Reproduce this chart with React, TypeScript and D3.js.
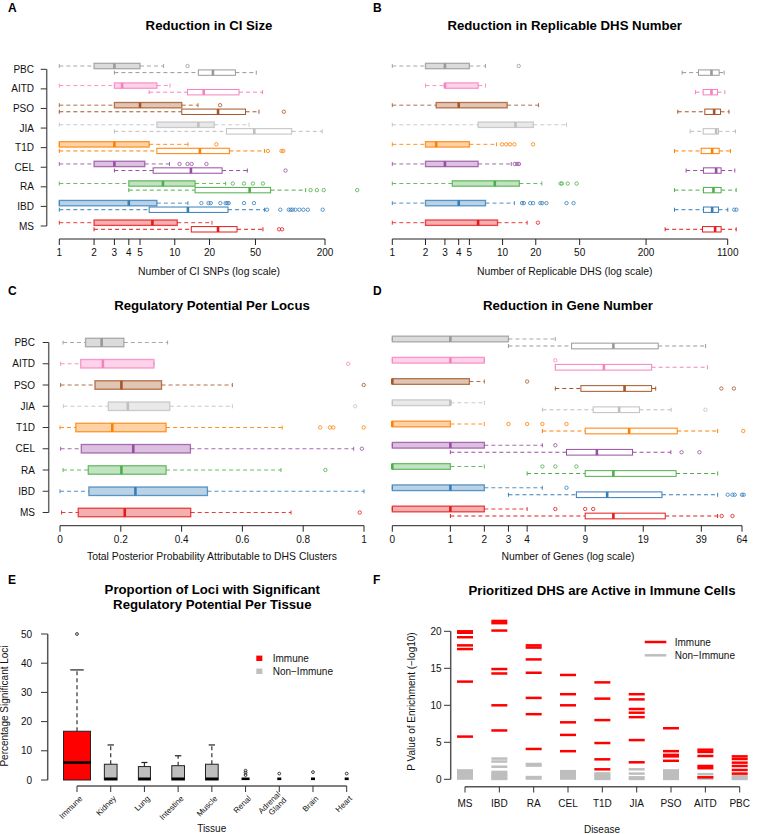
import React from "react";
import * as d3 from "d3";

const FONT = "'Liberation Sans', Arial, Helvetica, sans-serif";

// ---------- shared categories ----------
const diseases = ["MS", "IBD", "RA", "CEL", "T1D", "JIA", "PSO", "AITD", "PBC"];
const diseaseColors = ["#E41A1C", "#377EB8", "#4DAF4A", "#984EA3", "#FF7F00", "#BFBFBF", "#A65628", "#F781BF", "#999999"];

// ---------- Panel A: CI size (number of SNPs) [lo, q1, med, q3, hi] ----------
const ciRefinedStats = [
  [1, 2, 6.4, 10.5, 21], [1, 1, 4, 7, 13], [1, 4, 7.9, 15, 27.6], [1, 2, 3, 5.5, 9], [1, 1, 3, 6, 13],
  [1, 7, 16, 22, 44], [1, 3, 5, 11.5, 15.9], [1, 3, 3.5, 7, 9.1], [1, 2, 3, 5, 8],
];
const ciRefinedOut = [
  [], [17, 19.6, 20.5, 24.8, 27.6, 28.5, 29.3, 39.8, 48.5], [31.8, 39.8, 47.5, 58], [11, 12.9, 14, 18.8], [22.9],
  [], [24.7], [], [12.9],
];
const ciOriginalStats = [
  [2, 13.9, 23.7, 34.6, 58], [1, 6, 13, 28.9, 60], [4, 15, 44.5, 67.6, 136], [3, 6.5, 13.8, 25.7, 42.5], [1, 7, 16.5, 29.7, 60],
  [3, 28, 48.8, 103, 189], [1, 11.5, 23.7, 41, 53.6], [6, 12.9, 17.8, 36, 57.6], [3, 16, 21.4, 33.5, 50.8],
];
const ciOriginalOut = [
  [80, 85], [63, 82, 97, 101, 105, 111, 120, 130, 142, 191], [150, 170, 195, 380], [91], [64, 84, 87],
  [], [88], [], [],
];
const ciTicks = [1, 2, 3, 4, 5, 10, 20, 50, 200];

// ---------- Panel B: replicable DHS ----------
const dhsRefinedStats = [
  [1, 2, 6, 9, 16.7], [1, 2, 4, 7, 12.8], [1, 3.5, 8.5, 14.2, 22.7], [1, 2, 3, 6, 12], [1, 2, 2.5, 5, 8.8],
  [1, 6, 13.1, 19, 38], [1, 2.5, 4, 11, 21.2], [2, 3, 3, 6, 7], [1, 2, 3, 5, 7],
];
const dhsRefinedOut = [
  [20.9], [15, 15.6, 17.8, 18.9, 22, 22.9, 25, 38, 44], [33.6, 34.5, 39, 47], [12.9, 13.6, 14.1], [9.9, 10.8, 11.7, 12.8, 18.9],
  [], [], [], [14],
];
const dhsOriginalStats = [
  [298, 650, 846, 959, 1313], [362, 663, 795, 907, 1102], [362, 663, 817, 959, 1313], [462, 663, 864, 959, 1276], [362, 632, 795, 920, 1164],
  [502, 659, 864, 907, 1294], [388, 682, 829, 946, 1130], [561, 659, 784, 889, 1035], [425, 597, 784, 920, 1021],
];
const dhsOriginalOut = [[], [1260, 1320], [], [], [], [], [], [], []];
const dhsTicks = [1, 2, 3, 4, 5, 10, 20, 50, 200, 1100];

// ---------- Panel C: regulatory potential ----------
const regStats = [
  [0.005, 0.06, 0.213, 0.43, 0.76], [0, 0.095, 0.248, 0.485, 1.0], [0.01, 0.093, 0.202, 0.349, 0.727],
  [0.002, 0.07, 0.241, 0.429, 0.966], [0, 0.052, 0.172, 0.349, 0.731], [0.011, 0.159, 0.223, 0.361, 0.567],
  [0.002, 0.115, 0.202, 0.334, 0.567], [0.002, 0.068, 0.141, 0.309, 0.309], [0.01, 0.084, 0.137, 0.21, 0.354],
];
const regOut = [[0.986], [], [0.873], [0.993], [0.856, 0.888, 0.899, 0.999], [0.971], [0.999], [0.948], []];
const regTicks = [0, 0.2, 0.4, 0.6, 0.8, 1];

// ---------- Panel D: gene number ----------
const geneRefinedStats = [
  [0, 0, 1, 2, 4], [0, 0, 1, 2, 5], [0, 0, 0, 1, 2], [0, 0, 1, 2, 5], [0, 0, 0, 1, 2],
  [0, 0, 1, 1, 2], [0, 0, 0, 1.51, 2], [0, 0, 1, 2, 2], [0, 0, 1, 3, 6],
];
const geneRefinedOut = [[6, 9, 10], [7], [5, 6, 8], [6], [3, 4, 5, 7], [], [4], [6], []];
const geneOriginalStats = [
  [1, 9, 13, 25, 47.6], [3, 8, 12, 24, 47.6], [4, 9, 13, 28.6, 47.6], [1, 7, 10.5, 16.6, 26.8], [5, 9, 15.9, 29, 47.6],
  [5, 10, 14, 18.1, 26.9], [6, 8.5, 15, 21.1, 22.2], [6, 6, 11.5, 21.1, 42], [3, 7.5, 13, 22.9, 41.1],
];
const geneOriginalOut = [[50, 57], [53.8, 57, 58.6, 64, 65.3], [], [30.6, 38.1], [65], [41], [49.8, 58], [], []];
const geneTicks = [0, 1, 2, 3, 4, 9, 19, 39, 64];

// ---------- Panel E: tissues ----------
const tissues = ["Immune", "Kidney", "Lung", "Intestine", "Muscle", "Renal", "Adrenal\nGland", "Brain", "Heart"];
const tissueStats = [
  [0, 0, 6, 16.7, 37.7], [0, 0, 0, 5.4, 12], [0, 0, 0, 4.6, 6], [0, 0, 0, 4.9, 8.3], [0, 0, 0, 5.4, 12],
  [0, 0, 0, 0, 0], [0, 0, 0, 0, 0], [0, 0, 0, 0, 0], [0, 0, 0, 0, 0],
];
const tissueOut = [[50], [], [], [], [], [1.7, 2.5, 3.2], [2.2], [2.7], [2.2]];
const tissueN = [45, 10, 9, 10, 10, 4, 1, 1, 1];
const tissueIsImmune = [true, false, false, false, false, false, false, false, false];
const tissueTicks = [0, 10, 20, 30, 40, 50];

// ---------- Panel F: enrichment ----------
const fDiseases = ["MS", "IBD", "RA", "CEL", "T1D", "JIA", "PSO", "AITD", "PBC"];
const immuneP = [
  [20.0, 19.8, 19.2, 18.1, 17.6, 13.2, 5.77],
  [21.4, 21.1, 20.1, 14.9, 14.3, 10.0, 6.6],
  [18.1, 17.8, 16.2, 14.4, 11.0, 8.8, 4.1],
  [14.1, 11.5, 10.0, 7.7, 6.0, 3.8],
  [13.1, 10.9, 8.0, 4.9, 2.7, 1.35],
  [11.5, 10.8, 9.5, 9.0, 8.4, 5.3, 2.3],
  [6.9, 3.8, 3.3, 3.1, 2.5],
  [4.0, 3.7, 3.15, 1.8, 1.5, 0.27],
  [3.1, 2.75, 2.25, 1.8, 1.26, 0.77],
];
const nonImmuneP = [
  [0.1, 0.3, 0.5, 0.7, 0.9, 1.1, 1.2],
  [2.8, 2.4, 1.7, 1.0, 0.8, 0.6, 0.4, 0.2, 0.05],
  [2.07, 1.85, 0.3, 0.1],
  [1.1, 0.9, 0.7, 0.5, 0.3, 0.1],
  [0.8, 0.6, 0.4, 0.2, 0.05],
  [1.35, 0.77, 0.27, 0.05],
  [1.2, 1.0, 0.8, 0.6, 0.4, 0.2, 0.05],
  [0.7, 0.3, 0.1],
  [0.45, 0.22, 0.05],
];
const pTicks = [0, 5, 10, 15, 20];

const IMMUNE_RED = "#FF0000";
const NONIMM_GRAY = "#BEBEBE";

function lighten(color: string, a: number) {
  const c = d3.color(color)!;
  c.opacity = a;
  return c.formatRgb();
}

function HBox({ s, out, x, cy, h, color, filled }: any) {
  const cap = 4;
  const wcol = filled ? lighten(color, 0.85) : color;
  return (
    <g>
      <line x1={x(s[0])} x2={x(s[1])} y1={cy} y2={cy} stroke={wcol} strokeDasharray="4,3" strokeWidth={1} />
      <line x1={x(s[3])} x2={x(s[4])} y1={cy} y2={cy} stroke={wcol} strokeDasharray="4,3" strokeWidth={1} />
      <line x1={x(s[0])} x2={x(s[0])} y1={cy - cap / 2} y2={cy + cap / 2} stroke={wcol} strokeWidth={1} />
      <line x1={x(s[4])} x2={x(s[4])} y1={cy - cap / 2} y2={cy + cap / 2} stroke={wcol} strokeWidth={1} />
      <rect
        x={x(s[1])}
        y={cy - h / 2}
        width={Math.max(0.5, x(s[3]) - x(s[1]))}
        height={h}
        fill={filled ? lighten(color, 0.35) : "#fff"}
        stroke={filled ? lighten(color, 0.8) : color}
        strokeWidth={filled ? 1.3 : 1}
      />
      <line x1={x(s[2])} x2={x(s[2])} y1={cy - h / 2} y2={cy + h / 2} stroke={color} strokeWidth={2.6} />
      {out.map((v: number, i: number) => (
        <circle key={i} cx={x(v)} cy={cy} r={1.7} fill="none" stroke={color} strokeWidth={0.8} />
      ))}
    </g>
  );
}

function BottomAxis({ x, ticks, y, label, labelY, labelX, x0, x1, fmt }: any) {
  return (
    <g fontFamily={FONT} fontSize={10}>
      <line x1={x0} x2={x1} y1={y} y2={y} stroke="#222" strokeWidth={1} />
      {ticks.map((t: number, i: number) => (
        <g key={i}>
          <line x1={x(t)} x2={x(t)} y1={y} y2={y + 6} stroke="#222" />
          <text x={x(t)} y={y + 17} textAnchor="middle" fill="#111">{fmt ? fmt(t) : String(t)}</text>
        </g>
      ))}
      <text x={labelX ?? (x0 + x1) / 2} y={labelY} textAnchor="middle" fontSize={10.4} fill="#111">{label}</text>
    </g>
  );
}

function LeftCatAxis({ yScale, xLine, labelX }: any) {
  const ys = diseases.map((d) => yScale(d));
  return (
    <g fontFamily={FONT} fontSize={10}>
      <line x1={xLine} x2={xLine} y1={Math.min(...ys)} y2={Math.max(...ys)} stroke="#666" strokeWidth={1.5} />
      {diseases.map((d) => (
        <g key={d}>
          <line x1={xLine - 6} x2={xLine} y1={yScale(d)} y2={yScale(d)} stroke="#333" />
          <text x={labelX} y={yScale(d) + 3.5} textAnchor="end" fill="#111">{d}</text>
        </g>
      ))}
    </g>
  );
}

function Title({ x, y, children }: any) {
  return (
    <text x={x} y={y} textAnchor="middle" fontFamily={FONT} fontWeight="bold" fontSize={13.2} fill="#000">
      {children}
    </text>
  );
}

function Letter({ x, y, t }: any) {
  return (
    <text x={x} y={y} fontFamily={FONT} fontWeight="bold" fontSize={12} fill="#000">{t}</text>
  );
}

export default function App() {
  // Panel A
  const xA = d3.scaleLog().domain([1, 200]).range([59.3, 325]);
  const yAB = d3.scalePoint<string>().domain(diseases).range([226, 69.3]);
  // Panel B
  const xB = d3.scaleLog().domain([1, 1100]).range([392.3, 727.7]);
  // Panel C
  const xC = d3.scaleLinear().domain([0, 1]).range([60, 364]);
  const yCD = d3.scalePoint<string>().domain(diseases).range([512.5, 342.5]);
  // Panel D
  const xDlin = d3.scaleLinear().domain([0, Math.log2(65)]).range([392.3, 742]);
  const xD = (v: number) => xDlin(Math.log2(v + 1));
  // Panel E
  const xE = d3.scalePoint<string>().domain(tissues).range([77, 346.7]);
  const yE = d3.scaleLinear().domain([0, 50]).range([780, 634]);
  const wE = d3.scaleSqrt().domain([0, 1]).range([0, 4.02]);
  // Panel F
  const xF = d3.scalePoint<string>().domain(fDiseases).range([465, 739.7]);
  const yF = d3.scaleLinear().domain([0, 20]).range([779.3, 631.3]);

  const off = 3.3;

  return (
    <svg width={757} height={834} style={{ position: "absolute", left: 0, top: 0, background: "#fff" }}>
      <rect width={757} height={834} fill="#fff" />

      {/* ---------- A ---------- */}
      <Letter x={8} y={12} t="A" />
      <Title x={209} y={29.5}>Reduction in CI Size</Title>
      <LeftCatAxis yScale={yAB} xLine={46.7} labelX={34} />
      {diseases.map((d, i) => (
        <g key={d}>
          <HBox s={ciRefinedStats[i]} out={ciRefinedOut[i]} x={xA} cy={yAB(d)! - off} h={5.4} color={diseaseColors[i]} filled />
          <HBox s={ciOriginalStats[i]} out={ciOriginalOut[i]} x={xA} cy={yAB(d)! + off} h={5.4} color={diseaseColors[i]} filled={false} />
        </g>
      ))}
      <BottomAxis x={xA} ticks={ciTicks} y={239} x0={xA(1)} x1={xA(200)} labelX={209} label="Number of CI SNPs (log scale)" labelY={274.5} />

      {/* ---------- B ---------- */}
      <Letter x={373} y={12} t="B" />
      <Title x={564.7} y={29.5}>Reduction in Replicable DHS Number</Title>
      {diseases.map((d, i) => (
        <g key={d}>
          <HBox s={dhsRefinedStats[i]} out={dhsRefinedOut[i]} x={xB} cy={yAB(d)! - off} h={5.4} color={diseaseColors[i]} filled />
          <HBox s={dhsOriginalStats[i]} out={dhsOriginalOut[i]} x={xB} cy={yAB(d)! + off} h={5.4} color={diseaseColors[i]} filled={false} />
        </g>
      ))}
      <BottomAxis x={xB} ticks={dhsTicks} y={239} x0={xB(1)} x1={xB(1100)} labelX={564.7} label="Number of Replicable DHS (log scale)" labelY={274.5} />

      {/* ---------- C ---------- */}
      <Letter x={8} y={295} t="C" />
      <Title x={212} y={309.5}>Regulatory Potential Per Locus</Title>
      <LeftCatAxis yScale={yCD} xLine={48.7} labelX={35} />
      {diseases.map((d, i) => (
        <HBox key={d} s={regStats[i]} out={regOut[i]} x={xC} cy={yCD(d)!} h={8.5} color={diseaseColors[i]} filled />
      ))}
      <BottomAxis x={xC} ticks={regTicks} y={525.7} x0={xC(0)} x1={xC(1)} labelX={212} label="Total Posterior Probability Attributable to DHS Clusters" labelY={559.5} fmt={(t: number) => String(t)} />

      {/* ---------- D ---------- */}
      <Letter x={373} y={295} t="D" />
      <Title x={568} y={309.5}>Reduction in Gene Number</Title>
      {diseases.map((d, i) => (
        <g key={d}>
          <HBox s={geneRefinedStats[i]} out={geneRefinedOut[i]} x={xD} cy={yCD(d)! - 3.5} h={5.7} color={diseaseColors[i]} filled />
          <HBox s={geneOriginalStats[i]} out={geneOriginalOut[i]} x={xD} cy={yCD(d)! + 3.5} h={5.7} color={diseaseColors[i]} filled={false} />
        </g>
      ))}
      <BottomAxis x={xD} ticks={geneTicks} y={525.7} x0={xD(0)} x1={xD(64)} labelX={568} label="Number of Genes (log scale)" labelY={559.5} />

      {/* ---------- E ---------- */}
      <Letter x={8} y={584} t="E" />
      <Title x={212.3} y={593.8}>Proportion of Loci with Significant</Title>
      <Title x={212.3} y={608.5}>Regulatory Potential Per Tissue</Title>
      <g fontFamily={FONT} fontSize={10}>
        <line x1={47.7} x2={47.7} y1={yE(0)} y2={yE(50)} stroke="#555" strokeWidth={1.5} />
        {tissueTicks.map((t) => (
          <g key={t}>
            <line x1={41} x2={47.7} y1={yE(t)} y2={yE(t)} stroke="#333" />
            <text x={32} y={yE(t) + 3.5} textAnchor="end" fill="#111">{t}</text>
          </g>
        ))}
        <text transform={`translate(8,706) rotate(-90)`} textAnchor="middle" fill="#111">Percentage Significant Loci</text>
        <line x1={xE(tissues[0])} x2={xE(tissues[8])} y1={786} y2={786} stroke="#555" strokeWidth={1.5} />
        {tissues.map((t) => (
          <line key={t} x1={xE(t)} x2={xE(t)} y1={786} y2={792} stroke="#333" />
        ))}
        {tissues.map((t) => {
          const lines = t.split("\n");
          return (
            <text key={t} transform={`translate(${xE(t)! + 4},797) rotate(-45)`} textAnchor="end" fontSize={8} fill="#111">
              {lines.map((l, j) => (
                <tspan key={j} x={0} dy={j === 0 ? (lines.length > 1 ? "-0.4em" : "0.35em") : "1.05em"}>{l}</tspan>
              ))}
            </text>
          );
        })}
        <text x={211.7} y={832} textAnchor="middle" fill="#111">Tissue</text>
      </g>
      {tissues.map((t, i) => {
        const s = tissueStats[i];
        const cx = xE(t)!;
        const w = wE(tissueN[i]);
        const fill = tissueIsImmune[i] ? IMMUNE_RED : NONIMM_GRAY;
        return (
          <g key={t}>
            {s[4] > s[3] && (
              <>
                <line x1={cx} x2={cx} y1={yE(s[3])} y2={yE(s[4])} stroke="#333" strokeDasharray="4,3" strokeWidth={1.2} />
                <line x1={cx - w * 0.25} x2={cx + w * 0.25} y1={yE(s[4])} y2={yE(s[4])} stroke="#222" strokeWidth={1.2} />
              </>
            )}
            {s[3] > s[1] && (
              <rect x={cx - w / 2} y={yE(s[3])} width={w} height={yE(s[1]) - yE(s[3])} fill={fill} stroke="#222" strokeWidth={1} />
            )}
            <line x1={cx - w / 2} x2={cx + w / 2} y1={yE(s[2]) - (s[2] === 0 ? 1.2 : 0)} y2={yE(s[2]) - (s[2] === 0 ? 1.2 : 0)} stroke="#000" strokeWidth={2.6} />
            {tissueOut[i].map((v, j) => (
              <circle key={j} cx={cx} cy={yE(v)} r={1.4} fill="none" stroke="#222" strokeWidth={0.9} />
            ))}
          </g>
        );
      })}
      <g fontFamily={FONT} fontSize={10}>
        <rect x={256.3} y={655.6} width={6} height={5.4} fill={IMMUNE_RED} />
        <text x={272.7} y={661.8} fill="#111">Immune</text>
        <rect x={256.3} y={668.6} width={6} height={5.4} fill={NONIMM_GRAY} />
        <text x={272.7} y={674.8} fill="#111">Non−Immune</text>
      </g>

      {/* ---------- F ---------- */}
      <Letter x={373} y={584} t="F" />
      <Title x={602} y={595.3}>Prioritized DHS are Active in Immune Cells</Title>
      <g fontFamily={FONT} fontSize={10}>
        <line x1={450.7} x2={450.7} y1={yF(0)} y2={yF(20)} stroke="#555" strokeWidth={1.5} />
        {pTicks.map((t) => (
          <g key={t}>
            <line x1={444} x2={450.7} y1={yF(t)} y2={yF(t)} stroke="#333" />
            <text x={441.5} y={yF(t) + 3.5} textAnchor="end" fill="#111">{t}</text>
          </g>
        ))}
        <text transform={`translate(414.5,701.5) rotate(-90)`} textAnchor="middle" fill="#111">P Value of Enrichment (−log10)</text>
        <line x1={xF(fDiseases[0])} x2={xF(fDiseases[8])} y1={786.7} y2={786.7} stroke="#555" strokeWidth={1.5} />
        {fDiseases.map((d) => (
          <g key={d}>
            <line x1={xF(d)} x2={xF(d)} y1={786.7} y2={792.5} stroke="#333" />
            <text x={xF(d)} y={807} textAnchor="middle" fill="#111">{d}</text>
          </g>
        ))}
        <text x={602} y={832.5} textAnchor="middle" fill="#111">Disease</text>
      </g>
      {fDiseases.map((d, i) => (
        <g key={d}>
          {nonImmuneP[i].map((v, j) => (
            <line key={"n" + j} x1={xF(d)! - 8} x2={xF(d)! + 8} y1={yF(v)} y2={yF(v)} stroke={NONIMM_GRAY} strokeWidth={2.5} />
          ))}
          {immuneP[i].map((v, j) => (
            <line key={"i" + j} x1={xF(d)! - 8} x2={xF(d)! + 8} y1={yF(v)} y2={yF(v)} stroke={IMMUNE_RED} strokeWidth={2.5} />
          ))}
        </g>
      ))}
      <g fontFamily={FONT} fontSize={10}>
        <line x1={644.7} x2={666.3} y1={642} y2={642} stroke={IMMUNE_RED} strokeWidth={2.5} />
        <text x={674.7} y={645.5} fill="#111">Immune</text>
        <line x1={644.7} x2={666.3} y1={655.3} y2={655.3} stroke={NONIMM_GRAY} strokeWidth={2.5} />
        <text x={674.7} y={658.8} fill="#111">Non−Immune</text>
      </g>
    </svg>
  );
}
